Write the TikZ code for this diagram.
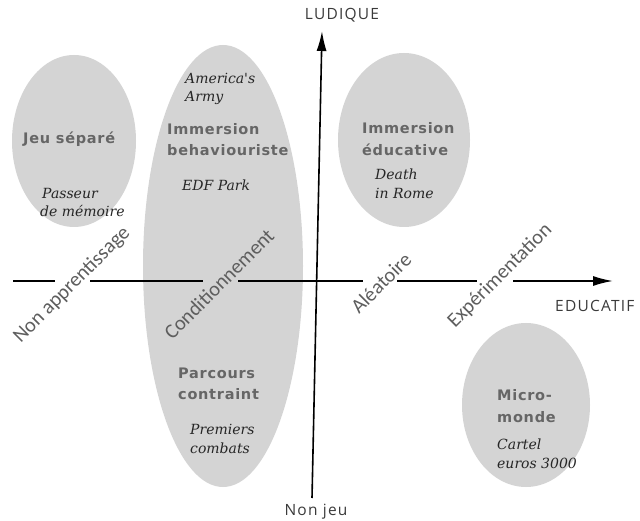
\documentclass[tikz,border=0pt]{standalone}
\usepackage{fontspec}
\usetikzlibrary{arrows.meta,shapes.geometric}
\newfontfamily\catfont[LetterSpace=5]{DejaVu Sans}
\newfontfamily\exfont{DejaVu Serif}
\newfontfamily\diagfont{Carlito}
\newfontfamily\axisfont[LetterSpace=8]{Open Sans}
\definecolor{zonegray}{HTML}{D4D4D4}
\definecolor{catgray}{HTML}{666666}
\definecolor{exgray}{HTML}{262626}
\definecolor{diaggray}{HTML}{5E5E5E}
\definecolor{axisgray}{HTML}{3A3A3A}
\begin{document}
\begin{tikzpicture}[x=1pt,y=-1pt,
  zone/.style={ellipse,fill=zonegray,draw=none,inner sep=0pt},
  cat/.style={font=\catfont\bfseries\fontsize{14.5}{21.5}\selectfont,text=catgray,align=left,inner sep=0pt,anchor=west},
  ex/.style={font=\exfont\itshape\fontsize{14}{18.5}\selectfont,text=exgray,align=left,inner sep=0pt,anchor=west},
  diag/.style={font=\diagfont\fontsize{20.5}{22}\selectfont,text=diaggray,rotate=45,inner sep=0pt},
  axlab/.style={font=\axisfont\fontsize{15.5}{18}\selectfont,text=axisgray,inner sep=0pt},
  axis/.style={line width=1.6pt,black},
  tip/.style={-{Latex[length=20pt,width=10pt]}}
]
\useasboundingbox (0,0) rectangle (640,521);
% zones
\node[zone,minimum width=124pt,minimum height=172pt] (z1) at (74,141) {};
\node[zone,minimum width=160pt,minimum height=442pt] (z2) at (223,266) {};
\node[zone,minimum width=132pt,minimum height=174pt] (z3) at (404,140) {};
\node[zone,minimum width=128pt,minimum height=164pt] (z4) at (526,405) {};
% horizontal axis (broken by labels)
\coordinate (h0) at (13,281);
\coordinate (h1) at (55,281);
\coordinate (h2) at (90,281);
\coordinate (h3) at (203,281);
\coordinate (h4) at (238,281);
\coordinate (h5) at (363,281);
\coordinate (h6) at (397,281);
\coordinate (h7) at (477,281);
\coordinate (h8) at (513,281);
\coordinate (h9) at (613,281);
\draw[axis] (h0) -- (h1);
\draw[axis] (h2) -- (h3);
\draw[axis] (h4) -- (h5);
\draw[axis] (h6) -- (h7);
\draw[axis,tip] (h8) -- (h9);
% vertical axis
\coordinate (v0) at (312,498);
\coordinate (v1) at (322,31);
\draw[axis,tip] (v0) -- (v1);
% axis labels
\node[axlab] (ludique) at (342,15) {LUDIQUE};
\node[axlab,anchor=west] (educatif) at (555,306) {EDUCATIF};
\node[axlab] (nonjeu) at (316,512) {Non jeu};
% diagonal labels
\node[diag] (na) at (72,285) {Non apprentissage};
\node[diag] (cond) at (219,284) {Conditionnement};
\node[diag] (alea) at (381,283) {Aléatoire};
\node[diag] (exper) at (500,276) {Expérimentation};
% categories
\node[cat] (jeu) at (23,139) {Jeu séparé};
\node[cat] (ib) at (167,139.5) {Immersion\\behaviouriste};
\node[cat] (ie) at (362,139) {Immersion\\éducative};
\node[cat] (pc) at (178,384) {Parcours\\contraint};
\node[cat] (mm) at (497,406) {Micro-\\monde};
% examples
\node[ex] (aa) at (185,89) {America's\\Army};
\node[ex] (edf) at (182,185) {EDF Park};
\node[ex] (pm) at (40,202.5) {\hspace*{2pt}Passeur\\de mémoire};
\node[ex] (dr) at (375,184) {Death\\in Rome};
\node[ex] (pcb) at (190,439) {Premiers\\combats};
\node[ex] (ce) at (497,454) {Cartel\\euros 3000};
\end{tikzpicture}
\end{document}
